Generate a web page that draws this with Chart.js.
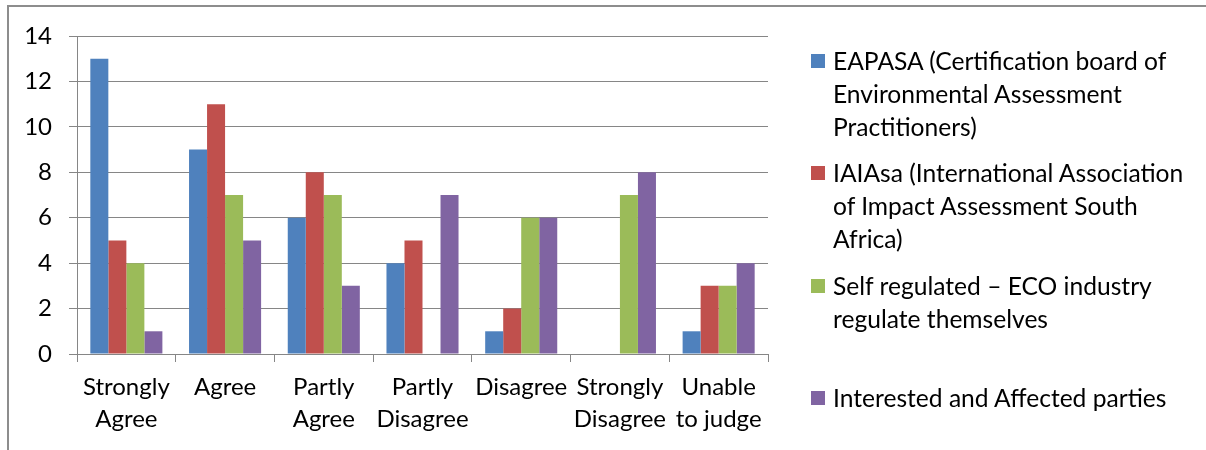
<!DOCTYPE html>
<html>
<head>
<meta charset="utf-8">
<script src="https://cdn.jsdelivr.net/npm/chart.js@4.4.0/dist/chart.umd.min.js"></script>
<style>
  html, body { margin: 0; padding: 0; background: #fff; }
  #wrap { position: relative; width: 1206px; height: 450px; overflow: hidden; }
  #frame { position: absolute; left: 7px; top: 5px; width: 1300px; height: 600px;
           border-top: 2px solid #8d8d8d; border-left: 2px solid #8d8d8d; }
  #chart { position: absolute; left: 0; top: 0; }
  .leg { position: absolute; left: 833px; font-family: Lato, sans-serif; font-size: 24.6px;
         line-height: 33px; color: #000; white-space: nowrap; }
  .sw { position: absolute; left: -22px; top: 10px; width: 14px; height: 14px; }
</style>
</head>
<body>
<div id="wrap">
  <div id="frame"></div>
  <canvas id="chart" width="1206" height="450"></canvas>
  <div id="legend"></div>
</div>
<script>
// Response categories (multi-line axis labels)
const categories = [
  ['Strongly', 'Agree'],
  ['Agree'],
  ['Partly', 'Agree'],
  ['Partly', 'Disagree'],
  ['Disagree'],
  ['Strongly', 'Disagree'],
  ['Unable', 'to judge']
];

// Number of respondents per category, one array per body
const eapasa        = [13, 9, 6, 4, 1, 0, 1];
const iaiasa        = [5, 11, 8, 5, 2, 0, 3];
const selfRegulated = [4, 7, 7, 0, 6, 7, 3];
const interested    = [1, 5, 3, 7, 6, 8, 4];

// Legend names, split into the lines they are shown on
const seriesNames = [
  ['EAPASA (Certification board of', 'Environmental Assessment', 'Practitioners)'],
  ['IAIAsa (International Association', 'of Impact Assessment South', 'Africa)'],
  ['Self regulated \u2013 ECO industry', 'regulate themselves'],
  ['Interested and Affected parties']
];

// Value axis ticks
const yMin = 0, yMax = 14, yStep = 2;

const colors = ['#4F81BD', '#C0504D', '#9BBB59', '#8064A2'];
const seriesValues = [eapasa, iaiasa, selfRegulated, interested];
const fontFamily = 'Lato, sans-serif';
const gridColor = '#868686';

const datasets = seriesValues.map((vals, i) => ({
  label: seriesNames[i].join(' '),
  data: vals,
  backgroundColor: colors[i],
  borderWidth: 0,
  categoryPercentage: 0.73,
  barPercentage: 1.0
}));

new Chart(document.getElementById('chart'), {
  type: 'bar',
  data: { labels: categories, datasets },
  options: {
    responsive: false,
    animation: false,
    layout: { padding: { left: 0, top: 36, right: 438, bottom: 0 } },
    plugins: { legend: { display: false }, tooltip: { enabled: false } },
    scales: {
      x: {
        afterFit: s => { s.height = 96; },
        grid: { drawOnChartArea: false, offset: true, tickLength: 8, color: gridColor, lineWidth: 1 },
        border: { display: true, color: gridColor, width: 1 },
        ticks: { color: '#000', padding: 10, maxRotation: 0, autoSkip: false,
                 font: { family: fontFamily, size: 24, lineHeight: 1.3 } }
      },
      y: {
        min: yMin, max: yMax,
        afterFit: s => { s.width = 77; },
        grid: { color: gridColor, lineWidth: 1, tickLength: 8, drawTicks: true },
        border: { display: true, color: gridColor, width: 1 },
        ticks: { stepSize: yStep, color: '#000', padding: 17,
                 font: { family: fontFamily, size: 24 } }
      }
    }
  }
});

// Legend drawn beside the plot, one block per series
const legendTops = [44, 156, 269, 381];
const legend = document.getElementById('legend');
datasets.forEach((ds, i) => {
  const item = document.createElement('div');
  item.className = 'leg';
  item.style.top = legendTops[i] + 'px';
  const sw = document.createElement('span');
  sw.className = 'sw';
  sw.style.background = ds.backgroundColor;
  item.appendChild(sw);
  seriesNames[i].forEach((line, j) => {
    if (j) item.appendChild(document.createElement('br'));
    item.appendChild(document.createTextNode(line));
  });
  legend.appendChild(item);
});
</script>
</body>
</html>
